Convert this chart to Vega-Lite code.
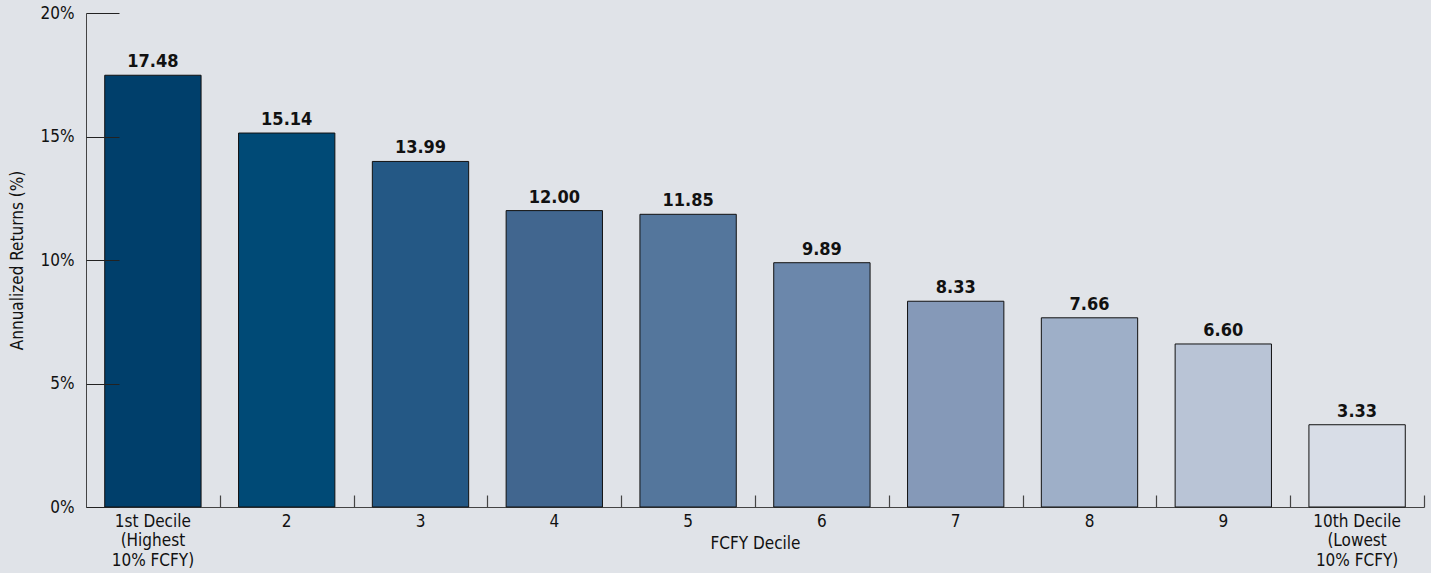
{
  "$schema": "https://vega.github.io/schema/vega-lite/v6.json",
  "autosize": {"type": "none"},
  "width": 1338,
  "height": 494,
  "padding": {"left": 86, "top": 13, "right": 7, "bottom": 66},
  "background": "#e0e3e8",
  "config": {
    "view": {"stroke": null},
    "font": "DejaVu Sans Condensed, sans-serif",
    "axis": {"labelFont": "DejaVu Sans Condensed, sans-serif", "titleFont": "DejaVu Sans Condensed, sans-serif", "labelColor": "#111", "titleColor": "#111", "titleFontWeight": "normal", "domainColor": "#444", "tickColor": "#444"}
  },
  "data": {
    "values": [
      {"decile": "1st Decile|(Highest|10% FCFY)", "ret": 17.48, "label": "17.48", "color": "#003f6b"},
      {"decile": "2", "ret": 15.14, "label": "15.14", "color": "#004a76"},
      {"decile": "3", "ret": 13.99, "label": "13.99", "color": "#245885"},
      {"decile": "4", "ret": 12.00, "label": "12.00", "color": "#41668f"},
      {"decile": "5", "ret": 11.85, "label": "11.85", "color": "#54769c"},
      {"decile": "6", "ret": 9.89, "label": "9.89", "color": "#6b87ab"},
      {"decile": "7", "ret": 8.33, "label": "8.33", "color": "#8599b8"},
      {"decile": "8", "ret": 7.66, "label": "7.66", "color": "#9eafc8"},
      {"decile": "9", "ret": 6.60, "label": "6.60", "color": "#b9c4d6"},
      {"decile": "10th Decile|(Lowest|10% FCFY)", "ret": 3.33, "label": "3.33", "color": "#d8dde7"}
    ]
  },
  "encoding": {
    "x": {"field": "decile", "type": "nominal", "sort": null,
      "scale": {"paddingInner": 0.28, "paddingOuter": 0.14}},
    "y": {"field": "ret", "type": "quantitative",
      "scale": {"domain": [0, 20], "nice": false}}
  },
  "layer": [
    {
      "mark": {"type": "bar", "stroke": "#111", "strokeWidth": 1},
      "encoding": {
        "x": {"field": "decile", "type": "nominal", "sort": null,
          "scale": {"paddingInner": 0.28, "paddingOuter": 0.14},
          "axis": {"orient": "bottom", "title": "FCFY Decile", "labelAngle": 0, "ticks": false, "labelFontSize": 17, "titleFontSize": 17,
            "labelExpr": "split(datum.label, '|')", "labelLineHeight": 19.5, "labelPadding": 6,
            "titleY": 41, "titleBaseline": "alphabetic", "domainColor": "#444"}},
        "y": {"field": "ret", "type": "quantitative",
          "scale": {"domain": [0, 20], "nice": false},
          "axis": {"orient": "left", "title": "Annualized Returns (%)", "values": [0, 5, 10, 15, 20], "labelExpr": "datum.value + '%'",
            "grid": false, "ticks": false, "labelFontSize": 17, "titleFontSize": 17, "labelPadding": 12,
            "titleX": -69, "titleBaseline": "middle"}},
        "color": {"field": "color", "type": "nominal", "scale": null}
      }
    },
    {
      "mark": {"type": "text", "fontWeight": "bold", "fontSize": 18, "baseline": "alphabetic", "dy": -8, "color": "#111"},
      "encoding": {
        "x": {"field": "decile", "type": "nominal", "sort": null,
          "axis": {"orient": "bottom", "title": null, "labels": false, "domain": false, "ticks": true, "bandPosition": 1, "tickOffset": 18.8, "tickSize": -12, "tickWidth": 1.2, "tickColor": "#444"}},
        "y": {"field": "ret", "type": "quantitative",
          "axis": {"orient": "left", "title": null, "labels": false, "domain": false, "grid": false, "ticks": true, "values": [0, 5, 10, 15, 20], "offset": -33, "tickSize": 33, "tickWidth": 1.2, "tickColor": "#222", "zindex": 1}},
        "text": {"field": "label"}
      }
    }
  ],
  "resolve": {"axis": {"x": "independent", "y": "independent"}}
}
